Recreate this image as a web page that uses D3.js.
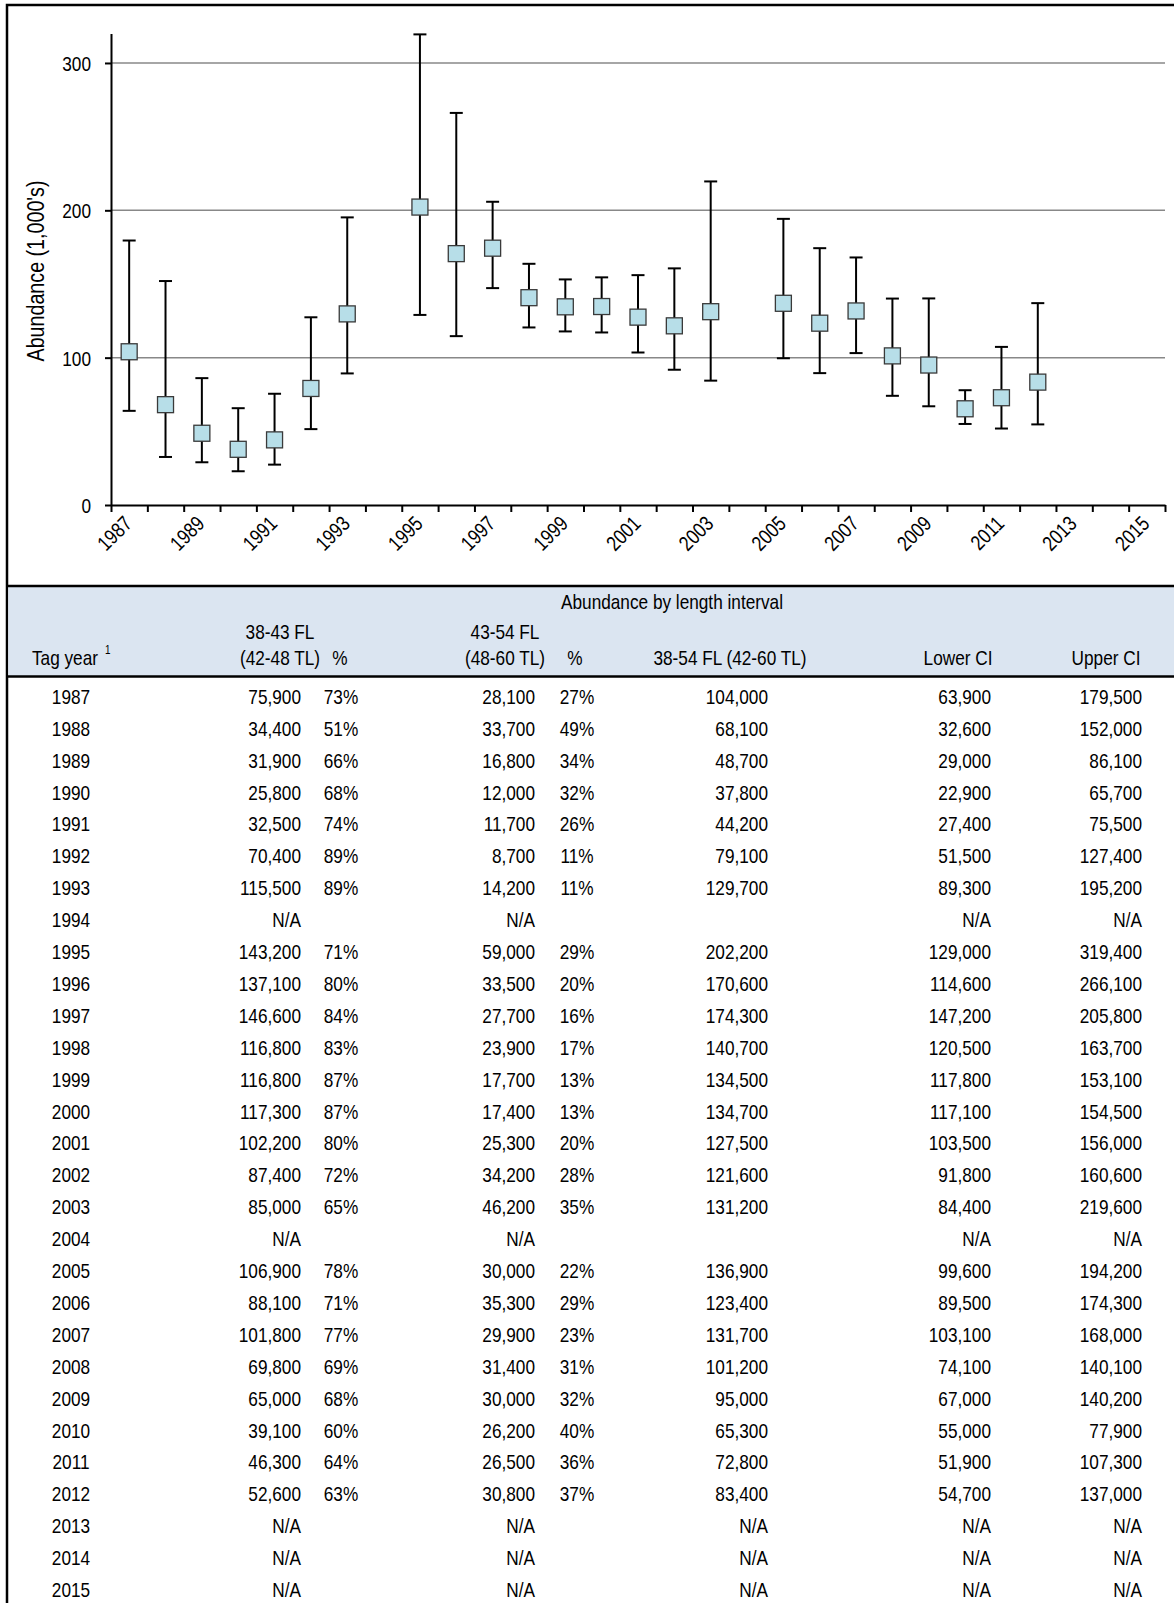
<!DOCTYPE html>
<html><head><meta charset="utf-8">
<script src="https://cdn.jsdelivr.net/npm/d3@7/dist/d3.min.js"></script>
<style>
body{margin:0;background:#fff}
svg{display:block}
text{font-family:"Liberation Sans",Arial,sans-serif;fill:#000}
</style>
</head><body><svg id="c" width="1174" height="1603"></svg>
<script>
// ---------- data ----------
const years = [1987,1988,1989,1990,1991,1992,1993,1994,1995,1996,1997,1998,1999,2000,2001,2002,2003,2004,2005,2006,2007,2008,2009,2010,2011,2012,2013,2014,2015];
const fl38_43 = [75900,34400,31900,25800,32500,70400,115500,null,143200,137100,146600,116800,116800,117300,102200,87400,85000,null,106900,88100,101800,69800,65000,39100,46300,52600,null,null,null];
const pct38_43 = ["73%","51%","66%","68%","74%","89%","89%","","71%","80%","84%","83%","87%","87%","80%","72%","65%","","78%","71%","77%","69%","68%","60%","64%","63%","","",""];
const fl43_54 = [28100,33700,16800,12000,11700,8700,14200,null,59000,33500,27700,23900,17700,17400,25300,34200,46200,null,30000,35300,29900,31400,30000,26200,26500,30800,null,null,null];
const pct43_54 = ["27%","49%","34%","32%","26%","11%","11%","","29%","20%","16%","17%","13%","13%","20%","28%","35%","","22%","29%","23%","31%","32%","40%","36%","37%","","",""];
const totalAbund = [104000,68100,48700,37800,44200,79100,129700,null,202200,170600,174300,140700,134500,134700,127500,121600,131200,null,136900,123400,131700,101200,95000,65300,72800,83400,null,null,null];
const lowerCI = [63900,32600,29000,22900,27400,51500,89300,null,129000,114600,147200,120500,117800,117100,103500,91800,84400,null,99600,89500,103100,74100,67000,55000,51900,54700,null,null,null];
const upperCI = [179500,152000,86100,65700,75500,127400,195200,null,319400,266100,205800,163700,153100,154500,156000,160600,219600,null,194200,174300,168000,140100,140200,77900,107300,137000,null,null,null];
const totalBlankYears = [1994,2004];
const yTicks = [0,100,200,300];
const xLabelYears = [1987,1989,1991,1993,1995,1997,1999,2001,2003,2005,2007,2009,2011,2013,2015];
const yTitle = "Abundance (1,000's)";
const tableTitle = "Abundance by length interval";

// ---------- setup ----------
const svg = d3.select("#c");
const fmt = d3.format(",");
const FS = 21;
const SX = 0.82; // narrow face emulation

function nt(parent, txt, xp, yp, anchor, rot, size){
  return parent.append("text")
    .attr("transform", `translate(${xp},${yp})` + (rot ? ` rotate(${rot})` : "") + ` scale(${SX},1)`)
    .attr("text-anchor", anchor).attr("font-size", size || FS).attr("dy","0.35em").text(txt);
}

// chart border
svg.append("rect").attr("x",7).attr("y",5).attr("width",1190).attr("height",1620)
  .attr("fill","none").attr("stroke","#000").attr("stroke-width",2.5);

// scales
const x = d3.scaleBand().domain(years).range([111,1165]);
const xIdx = d3.scaleLinear().domain([0,years.length]).range([111,1165]);
const y = d3.scaleLinear().domain([0,320]).range([505,33.5]);

// gridlines
svg.append("g").selectAll("line").data(yTicks.filter(d=>d>0)).join("line")
  .attr("x1",111).attr("x2",1165).attr("y1",d=>y(d)).attr("y2",d=>y(d))
  .attr("stroke","#888").attr("stroke-width",1.5);

// y axis
const ya = svg.append("g").attr("transform","translate(111,0)")
  .call(d3.axisLeft(y).tickValues(yTicks).tickSize(6).tickSizeOuter(0));
ya.select(".domain").attr("stroke","#000").attr("stroke-width",2);
ya.selectAll(".tick line").attr("stroke","#000").attr("stroke-width",2);
ya.selectAll(".tick text").attr("font-size",FS).attr("font-family",null)
  .attr("x",0).attr("dy","0.35em").attr("transform",`translate(-20,0) scale(${SX},1)`);

// y title
nt(svg, yTitle, 36, 271, "middle", -90, 24);

// x axis ticks at category boundaries
const xa = svg.append("g").attr("transform","translate(0,505)")
  .call(d3.axisBottom(xIdx).tickValues(d3.range(0,years.length+1)).tickSize(7).tickSizeOuter(0).tickFormat(""));
xa.select(".domain").attr("stroke","#000").attr("stroke-width",2);
xa.selectAll(".tick line").attr("stroke","#000").attr("stroke-width",2);

// x labels
const xl = svg.append("g").attr("transform","translate(0,505)")
  .call(d3.axisBottom(x).tickValues(xLabelYears).tickSize(0).tickPadding(0));
xl.select(".domain").remove();
xl.selectAll(".tick text").attr("font-size",FS).attr("font-family",null)
  .attr("text-anchor","end").attr("dy",0).attr("y",0)
  .attr("transform",`translate(4,20) rotate(-45) scale(${SX},1)`);

// error bars
const pts = years.map((yr,i)=>({yr, v: totalAbund[i], lo: lowerCI[i], hi: upperCI[i]})).filter(d=>d.v!=null);
const cx = d => x(d.yr) + x.bandwidth()/2;
const eb = svg.append("g").attr("stroke","#000").attr("stroke-width",2);
eb.selectAll("line.v").data(pts).join("line").attr("class","v")
  .attr("x1",cx).attr("x2",cx).attr("y1",d=>y(d.lo/1000)).attr("y2",d=>y(d.hi/1000));
eb.selectAll("line.h").data(pts).join("line").attr("class","h")
  .attr("x1",d=>cx(d)-6.5).attr("x2",d=>cx(d)+6.5).attr("y1",d=>y(d.hi/1000)).attr("y2",d=>y(d.hi/1000));
eb.selectAll("line.l").data(pts).join("line").attr("class","l")
  .attr("x1",d=>cx(d)-6.5).attr("x2",d=>cx(d)+6.5).attr("y1",d=>y(d.lo/1000)).attr("y2",d=>y(d.lo/1000));

// markers
svg.append("g").selectAll("rect").data(pts).join("rect")
  .attr("x",d=>cx(d)-8).attr("y",d=>y(d.v/1000)-8).attr("width",16).attr("height",16)
  .attr("fill","#B7DEE8").attr("stroke","#3a3a3a").attr("stroke-width",1.3);

// ---------- table ----------
svg.append("rect").attr("x",8.25).attr("y",587).attr("width",1170).attr("height",89)
  .attr("fill","#DBE5F1");
svg.append("line").attr("x1",7).attr("x2",1174).attr("y1",586).attr("y2",586).attr("stroke","#000").attr("stroke-width",2.5);
svg.append("line").attr("x1",7).attr("x2",1174).attr("y1",676.5).attr("y2",676.5).attr("stroke","#000").attr("stroke-width",2.5);

const hdr = svg.append("g");
nt(hdr, tableTitle, 672, 602, "middle");
nt(hdr, "38-43 FL", 280, 632, "middle");
nt(hdr, "43-54 FL", 505, 632, "middle");
nt(hdr, "Tag year", 32, 658, "start");
hdr.append("text").attr("transform",`translate(105,650) scale(${SX},1)`).attr("font-size",12).attr("dy","0.35em").text("1");
nt(hdr, "(42-48 TL)", 280, 658, "middle");
nt(hdr, "%", 340, 658, "middle");
nt(hdr, "(48-60 TL)", 505, 658, "middle");
nt(hdr, "%", 575, 658, "middle");
nt(hdr, "38-54 FL (42-60 TL)", 730, 658, "middle");
nt(hdr, "Lower CI", 958, 658, "middle");
nt(hdr, "Upper CI", 1106, 658, "middle");

const rowY = d3.scaleLinear().domain([0,1]).range([696.5,728.4]);
const numOrNA = v => v==null ? "N/A" : fmt(v);
const cols = [
  {x:71, a:"middle", f:(yr,i)=>String(yr)},
  {x:301, a:"end", f:(yr,i)=>numOrNA(fl38_43[i])},
  {x:341, a:"middle", f:(yr,i)=>pct38_43[i]},
  {x:535, a:"end", f:(yr,i)=>numOrNA(fl43_54[i])},
  {x:577, a:"middle", f:(yr,i)=>pct43_54[i]},
  {x:768, a:"end", f:(yr,i)=>totalAbund[i]==null ? (totalBlankYears.includes(yr)?"":"N/A") : fmt(totalAbund[i])},
  {x:991, a:"end", f:(yr,i)=>numOrNA(lowerCI[i])},
  {x:1142, a:"end", f:(yr,i)=>numOrNA(upperCI[i])}
];
const body = svg.append("g");
years.forEach((yr,i)=>{
  cols.forEach(c=>{
    const t = c.f(yr,i);
    if (t !== "") nt(body, t, c.x, rowY(i), c.a);
  });
});
</script>
</body></html>
